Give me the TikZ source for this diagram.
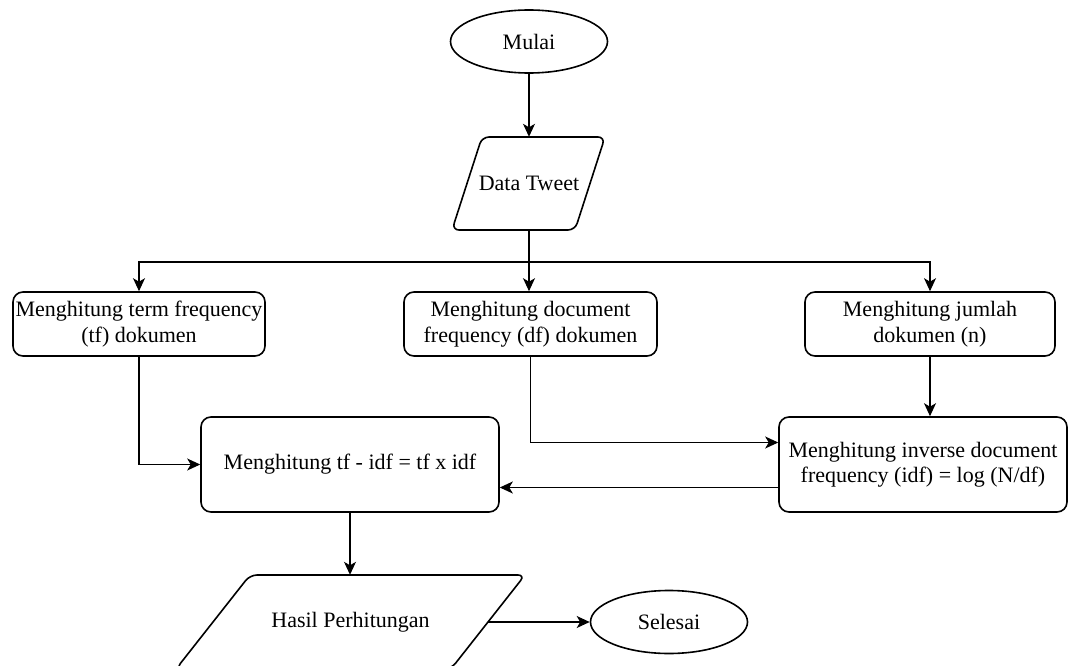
\documentclass[tikz,border=0pt]{standalone}
\usepackage{fontspec}
\setmainfont{Liberation Serif}
\usetikzlibrary{arrows.meta,shapes.geometric}

\begin{document}
\begin{tikzpicture}[x=1pt,y=-1pt,
  font=\fontsize{22}{25.5}\selectfont,
  box/.style={draw,line width=1.6pt,rounded corners=10pt,align=center,inner sep=0pt},
  terminal/.style={draw,ellipse,line width=1.6pt,inner sep=0pt,minimum width=157pt,minimum height=63pt},
  io/.style={line width=1.6pt,rounded corners=7pt},
  arr/.style={-{Stealth[length=13pt,width=12pt,inset=3.5pt]},line width=1.1pt}]

\useasboundingbox (0,0) rectangle (1071,666);

%start and input
\node [terminal] (mulai) at (529,41.5) {Mulai};
\draw [io] (452,230)--(482,137)--(605,137)--(575,230)--cycle; % parallelogram of Data Tweet
\node [inner sep=0pt,minimum height=93pt] (tweet) at (529,183.5) {Data Tweet};

%first row of counting steps
\node [box,minimum width=252pt,minimum height=64pt] (tf) at (139,324) {Menghitung term frequency\\(tf) dokumen};
\node [box,minimum width=253pt,minimum height=64pt] (df) at (530.5,324) {Menghitung document\\frequency (df) dokumen};
\node [box,minimum width=250pt,minimum height=64pt] (jumlah) at (930,324) {Menghitung jumlah\\dokumen (n)};

%second row
\node [box,minimum width=298pt,minimum height=95pt] (tfidf) at (350,464.5) {Menghitung tf - idf = tf x idf};
\node [box,minimum width=288pt,minimum height=95pt] (idf) at (923,464.5) {Menghitung inverse document\\frequency (idf) = log (N/df)};

%output and end
\draw [io] (176,669)--(250,575)--(525,575)--(451,669)--cycle; % parallelogram of Hasil Perhitungan
\node [inner sep=0pt,minimum height=94pt] (hasil) at (350.5,622) {Hasil Perhitungan};
\coordinate (hasilR) at (488,622); % right side of the parallelogram
\node [terminal] (selesai) at (669,622) {Selesai};

%arrows
\coordinate (split) at (529,262); % branch point under Data Tweet
\draw [arr] (mulai) -- (tweet.north);
\draw [line width=1.1pt] (tweet.south) -- (split);
\draw [arr] (split) -| (tf.north);
\draw [arr] (split) -- (split |- df.north);
\draw [arr] (split) -| (jumlah.north);

\draw [arr] (tf.south) |- (tfidf.west);
\draw [arr] (df.south) |- ([yshift=22pt]idf.west);
\draw [arr] (jumlah.south) -- (jumlah.south |- idf.north);
\draw [arr] ([yshift=-23pt]idf.west) -- ([yshift=-23pt]tfidf.east);

\draw [arr] (tfidf.south) -- (tfidf.south |- hasil.north);
\draw [arr] (hasilR) -- (selesai.west);

\end{tikzpicture}
\end{document}
